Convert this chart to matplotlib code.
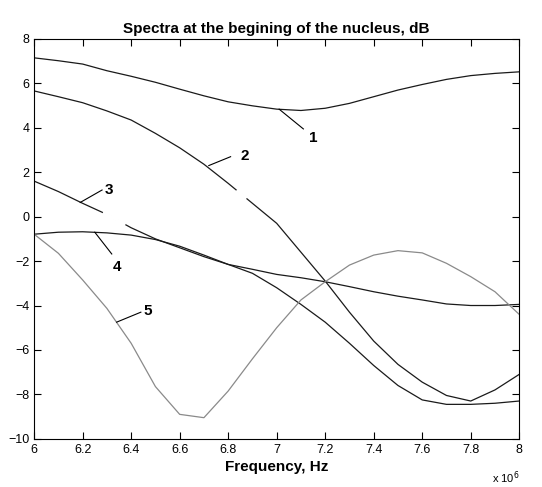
import numpy as np
import matplotlib
matplotlib.use("Agg")
import matplotlib.pyplot as plt

plt.rcParams['font.family'] = ['Liberation Sans', 'DejaVu Sans']

# frequency in units of 1e6 Hz
freq = np.round(np.arange(6.0, 8.01, 0.1), 1)

spec1 = [7.15, 7.02, 6.87, 6.57, 6.32, 6.05, 5.74, 5.44, 5.17, 4.99, 4.84,
         4.78, 4.88, 5.10, 5.40, 5.70, 5.95, 6.18, 6.35, 6.45, 6.52]
spec2 = [5.66, 5.40, 5.13, 4.76, 4.35, 3.75, 3.10, 2.36, 1.50, 0.60, -0.30,
         -1.60, -2.90, -4.30, -5.60, -6.65, -7.45, -8.05, -8.30, -7.80, -7.10]
spec3 = [1.60, 1.13, 0.60, 0.10, -0.50, -1.00, -1.40, -1.80, -2.15, -2.55, -3.20,
         -3.95, -4.75, -5.70, -6.70, -7.60, -8.25, -8.45, -8.45, -8.40, -8.30]
spec4 = [-0.79, -0.70, -0.68, -0.73, -0.83, -1.03, -1.33, -1.73, -2.15, -2.37, -2.60,
         -2.75, -2.93, -3.15, -3.38, -3.58, -3.75, -3.93, -4.00, -4.00, -3.95]
spec5 = [-0.79, -1.65, -2.85, -4.13, -5.70, -7.65, -8.90, -9.05, -7.85, -6.40, -5.00,
         -3.75, -2.93, -2.18, -1.73, -1.53, -1.63, -2.10, -2.70, -3.38, -4.40]

labels = ['1', '2', '3', '4', '5']
# (curve point, leader end, text centre) for each label
label_pts = [((7.01, 4.84), (7.11, 3.95), (7.15, 3.55)),
             ((6.72, 2.30), (6.81, 2.70), (6.87, 2.75)),
             ((6.19, 0.64), (6.28, 1.20), (6.31, 1.20)),
             ((6.25, -0.70), (6.32, -1.68), (6.34, -2.25)),
             ((6.34, -4.75), (6.44, -4.30), (6.47, -4.25))]
# small breaks in curves 2 and 3
gaps = {1: (6.84, 6.87), 2: (6.29, 6.37)}

dark = '#1a1a1a'
grey = '#8a8a8a'
colors = [dark, dark, dark, dark, grey]
series = [spec1, spec2, spec3, spec4, spec5]

fig = plt.figure(figsize=(5.42, 4.87), dpi=100)
ax = fig.add_axes([0.063, 0.099, 0.895, 0.821])

for i, (ys, c) in enumerate(zip(series, colors)):
    ax.plot(freq, ys, color=c, lw=0.9)
    if i in gaps:
        g0, g1 = gaps[i]
        gx = np.linspace(g0, g1, 10)
        ax.plot(gx, np.interp(gx, freq, ys), color='white', lw=2.5)

for lab, (p0, p1, pt) in zip(labels, label_pts):
    ax.plot([p0[0], p1[0]], [p0[1], p1[1]], color='black', lw=0.8)
    ax.text(pt[0], pt[1], lab, fontsize=11, fontweight='bold',
            ha='center', va='center')

ax.set_xlim(6, 8)
ax.set_ylim(-10, 8)
ax.set_xticks(np.arange(6, 8.01, 0.2))
ax.set_xticklabels(['6', '6.2', '6.4', '6.6', '6.8', '7', '7.2', '7.4', '7.6', '7.8', '8'])
ax.set_yticks(np.arange(-10, 8.1, 2))
ax.tick_params(direction='in', top=True, right=True, labelsize=9, length=5, width=0.8)
for s in ax.spines.values():
    s.set_linewidth(0.8)

ax.set_title('Spectra at the begining of the nucleus, dB', fontsize=11, fontweight='bold', pad=4)
ax.set_xlabel('Frequency, Hz', fontsize=11, fontweight='bold', labelpad=3)
ax.text(1.0, -0.098, 'x 10$^6$', transform=ax.transAxes, fontsize=8, ha='right', va='center')

fig.savefig('out.png', dpi=100)
